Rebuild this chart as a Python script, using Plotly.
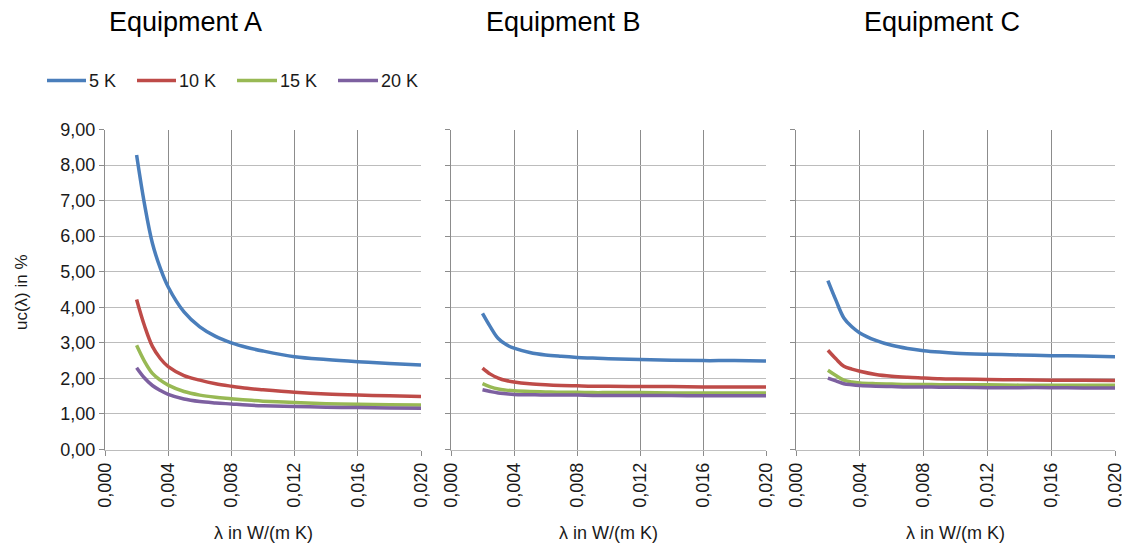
import plotly.graph_objects as go

# ---- data ----
lam = [0.002, 0.0025, 0.003, 0.0035, 0.004, 0.005, 0.006, 0.007, 0.008, 0.009,
       0.010, 0.012, 0.014, 0.016, 0.018, 0.020]
series_names = ["5 K", "10 K", "15 K", "20 K"]
panels = ["Equipment A", "Equipment B", "Equipment C"]

a_5K = [8.28, 6.90, 5.80, 5.10, 4.57, 3.87, 3.45, 3.18, 3.00, 2.87, 2.77, 2.61, 2.53, 2.47, 2.42, 2.38]
a_10K = [4.22, 3.48, 2.90, 2.56, 2.33, 2.08, 1.95, 1.85, 1.78, 1.72, 1.68, 1.61, 1.56, 1.53, 1.51, 1.49]
a_15K = [2.93, 2.48, 2.14, 1.95, 1.81, 1.63, 1.53, 1.47, 1.43, 1.39, 1.36, 1.32, 1.29, 1.27, 1.26, 1.25]
a_20K = [2.30, 2.01, 1.80, 1.66, 1.55, 1.42, 1.35, 1.31, 1.28, 1.25, 1.23, 1.21, 1.19, 1.18, 1.17, 1.16]

b_5K = [3.83, 3.45, 3.12, 2.95, 2.85, 2.73, 2.66, 2.62, 2.59, 2.57, 2.55, 2.53, 2.51, 2.50, 2.50, 2.49]
b_10K = [2.29, 2.12, 2.01, 1.94, 1.90, 1.85, 1.82, 1.80, 1.79, 1.78, 1.78, 1.77, 1.77, 1.76, 1.76, 1.76]
b_15K = [1.85, 1.76, 1.70, 1.67, 1.65, 1.63, 1.62, 1.61, 1.61, 1.60, 1.60, 1.60, 1.59, 1.59, 1.59, 1.59]
b_20K = [1.68, 1.63, 1.59, 1.57, 1.55, 1.54, 1.53, 1.53, 1.53, 1.52, 1.52, 1.52, 1.52, 1.51, 1.51, 1.51]

c_5K = [4.75, 4.20, 3.70, 3.45, 3.28, 3.07, 2.93, 2.84, 2.78, 2.74, 2.71, 2.68, 2.66, 2.64, 2.63, 2.61]
c_10K = [2.79, 2.55, 2.34, 2.26, 2.20, 2.11, 2.06, 2.03, 2.01, 1.99, 1.98, 1.97, 1.96, 1.95, 1.95, 1.94]
c_15K = [2.23, 2.08, 1.95, 1.90, 1.87, 1.85, 1.84, 1.83, 1.83, 1.82, 1.82, 1.82, 1.81, 1.81, 1.81, 1.81]
c_20K = [2.01, 1.93, 1.85, 1.82, 1.80, 1.78, 1.77, 1.76, 1.76, 1.75, 1.75, 1.74, 1.74, 1.74, 1.73, 1.73]

panel_data = [[a_5K, a_10K, a_15K, a_20K],
              [b_5K, b_10K, b_15K, b_20K],
              [c_5K, c_10K, c_15K, c_20K]]

x_ticks = [0.000, 0.004, 0.008, 0.012, 0.016, 0.020]
y_ticks = [0, 1, 2, 3, 4, 5, 6, 7, 8, 9]

# ---- style / layout (page pixels; the page body has an 8px margin) ----
OFF = 8
W, H = 1130 - OFF, 548 - OFF


def px(x):
    return (x - OFF) / W


def py(y):
    return 1 - (y - OFF) / H


colors = ["#4a7ebb", "#be4b48", "#98b954", "#7d60a0"]
FONT = "Liberation Sans, Arial, sans-serif"
x_px = [(105, 421), (451, 766), (796, 1115)]
y_top, y_bot = 129.5, 449.5
title_cx = [185, 563, 942]
leg_lines = [(47, 86), (137, 176), (237, 277), (338, 378)]
leg_y = 80.5

fig = go.Figure()
for p, data in enumerate(panel_data):
    xa = "x" if p == 0 else f"x{p+1}"
    ya = "y" if p == 0 else f"y{p+1}"
    for s, vals in enumerate(data):
        fig.add_trace(go.Scatter(
            x=lam, y=vals, mode="lines", name=series_names[s],
            line=dict(color=colors[s], width=3.5, shape="spline", smoothing=1.0),
            xaxis=xa, yaxis=ya, showlegend=False, legendgroup=series_names[s]))

layout = dict(
    width=W, height=H, margin=dict(l=0, r=0, t=0, b=0),
    paper_bgcolor="white", plot_bgcolor="white",
    separators=",.",
    font=dict(family=FONT, size=18, color="#1a1a1a"),
    showlegend=False,
)
annotations = []
shapes = []
for p in range(3):
    sfx = "" if p == 0 else str(p + 1)
    x0, x1 = x_px[p]
    layout["xaxis" + sfx] = dict(
        domain=[px(x0), px(x1)], range=[0, 0.020], tickvals=x_ticks, tickformat=".3f",
        tickangle=-90, ticks="outside", ticklen=5, tickcolor="#8c8c8c",
        showgrid=True, gridcolor="#8c8c8c", gridwidth=1,
        showline=True, linecolor="#bcbcbc", linewidth=1, zeroline=False,
        anchor="y" + sfx, automargin=False, tickfont=dict(size=18),
        fixedrange=True)
    layout["yaxis" + sfx] = dict(
        domain=[py(y_bot), py(y_top)], range=[0, 9], tickvals=y_ticks, tickformat=".2f",
        ticks="outside", ticklen=5, tickcolor="#8c8c8c",
        showgrid=True, gridcolor="#bcbcbc", gridwidth=1,
        showline=True, linecolor="#8c8c8c", linewidth=1, zeroline=False,
        showticklabels=(p == 0), anchor="x" + sfx, automargin=False,
        tickfont=dict(size=18), fixedrange=True)
    annotations.append(dict(text=panels[p], x=px(title_cx[p]), y=py(22),
                            xref="paper", yref="paper", showarrow=False,
                            xanchor="center", yanchor="middle",
                            font=dict(size=27, family=FONT, color="#000")))
    annotations.append(dict(text="λ in W/(m K)", x=px((x0 + x1) / 2), y=py(533),
                            xref="paper", yref="paper", showarrow=False,
                            xanchor="center", yanchor="middle",
                            font=dict(size=18, family=FONT, color="#1a1a1a")))
annotations.append(dict(text="uc(λ) in %", x=px(21), y=py(292), textangle=-90,
                        xref="paper", yref="paper", showarrow=False,
                        xanchor="center", yanchor="middle",
                        font=dict(size=17, family=FONT, color="#1a1a1a")))

# legend (line sample + label per series)
for s, (l0, l1) in enumerate(leg_lines):
    shapes.append(dict(type="line", xref="paper", yref="paper",
                       x0=px(l0), x1=px(l1), y0=py(leg_y), y1=py(leg_y),
                       line=dict(color=colors[s], width=3.5)))
    annotations.append(dict(text=series_names[s], x=px(l1 + 1), y=py(leg_y),
                            xref="paper", yref="paper", showarrow=False,
                            xanchor="left", yanchor="middle",
                            font=dict(size=18, family=FONT, color="#1a1a1a")))

layout["annotations"] = annotations
layout["shapes"] = shapes
fig.update_layout(**layout)
fig.write_html("out.html")
